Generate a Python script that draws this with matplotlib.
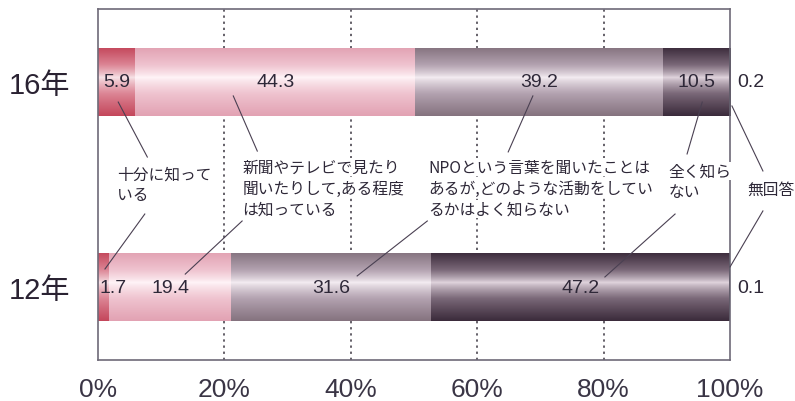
import numpy as np
import matplotlib
matplotlib.use("Agg")
import matplotlib.pyplot as plt
from matplotlib import font_manager
from matplotlib.colors import LinearSegmentedColormap

# survey results (%), awareness of NPOs
years = ["16年", "12年"]
categories = [
    "十分に知っている",
    "新聞やテレビで見たり聞いたりして,ある程度は知っている",
    "NPOという言葉を聞いたことはあるが,どのような活動をしているかはよく知らない",
    "全く知らない",
    "無回答",
]
values_16 = [5.9, 44.3, 39.2, 10.5, 0.2]
values_12 = [1.7, 19.4, 31.6, 47.2, 0.1]
xticks = [0, 20, 40, 60, 80, 100]
xtick_labels = ["0%", "20%", "40%", "60%", "80%", "100%"]

# callout texts, as broken in the layout
notes = [
    "十分に知って\nいる",
    "新聞やテレビで見たり\n聞いたりして,ある程度\nは知っている",
    "NPOという言葉を聞いたことは\nあるが,どのような活動をしてい\nるかはよく知らない",
    "全く知ら\nない",
    "無回答",
]

# edge / mid / highlight colours for each category
shades = [
    ("#c4475b", "#dc8595", "#f7e4e8"),
    ("#e2a2b3", "#efc3cf", "#fff5f8"),
    ("#85737f", "#b3a2b0", "#f5eef3"),
    ("#3b2b3b", "#7a6878", "#e2d6df"),
    ("#1e1420", "#2a1d2a", "#4a3a4a"),
]

installed = {f.name for f in font_manager.fontManager.ttflist}
num_font = "Liberation Sans Narrow" if "Liberation Sans Narrow" in installed else "Liberation Sans"
num_size = 17 if num_font == "Liberation Sans Narrow" else 14
jp_fonts = ["Noto Sans CJK JP", "DejaVu Sans"]
text_col = "#2e2838"

fig = plt.figure(figsize=(7.95, 4.02), dpi=100)
ax = fig.add_axes([0.1233, 0.1020, 0.7950, 0.8731])

ypos = [1, 0]
bar_h = 0.336
data = np.array([values_16, values_12])

# vertical gradient: dark edges, bright band a little above the middle
t = np.linspace(0, 1, 256)
hi = 0.56
v = np.where(t < hi, (hi - t) / hi, (t - hi) / (1 - hi)) ** 0.8
grad = v[:, None]

lefts = np.zeros(2)
for i, cat in enumerate(categories):
    vals = data[:, i]
    edge, mid, light = shades[i]
    cmap = LinearSegmentedColormap.from_list(f"c{i}", [(0, light), (0.5, mid), (1, edge)])
    bars = ax.barh(ypos, vals, left=lefts, height=bar_h, color=edge, linewidth=0, zorder=2)
    for p in bars:
        x0, y0 = p.get_x(), p.get_y()
        im = ax.imshow(grad, extent=(x0, x0 + p.get_width(), y0, y0 + p.get_height()),
                       origin="lower", cmap=cmap, vmin=0, vmax=1, aspect="auto",
                       interpolation="bilinear", zorder=2.1)
        im.set_clip_path(p)
    for j, (left, w) in enumerate(zip(lefts, vals)):
        label = f"{w:.1f}"
        y = ypos[j]
        if i == len(categories) - 1:
            x, ha = 101.2, "left"
        elif w < 3:
            x, ha = left + 0.3, "left"
        else:
            x, ha = left + w / 2, "center"
        ax.text(x, y, label, ha=ha, va="center", fontsize=num_size,
                family=num_font, color=text_col, zorder=4)
    lefts = lefts + vals

# dotted guides
for gx in xticks[1:-1]:
    ax.axvline(gx, color="#3a3540", lw=1.1, linestyle=(0, (1.5, 2.5)), zorder=1)

# callout texts, one line at a time so each line masks the guides behind it
note_pos = [(3.0, 0.551), (22.8, 0.585), (52.2, 0.585), (90.2, 0.566), (102.8, 0.478)]
line_step = 0.102
for txt, (nx, ny) in zip(notes, note_pos):
    for k, line in enumerate(txt.split("\n")):
        ax.text(nx, ny - k * line_step, line, ha="left", va="center", fontsize=11.3,
                family=jp_fonts, color=text_col, clip_on=False, zorder=4,
                bbox=dict(boxstyle="square,pad=0.05", fc="white", ec="none"))

# leader lines from values to callouts
leaders = [
    ((3.2, 7.8), (0.902, 0.634)),
    ((7.4, 1.1), (0.356, 0.088)),
    ((21.4, 25.2), (0.932, 0.663)),
    ((22.8, 13.8), (0.322, 0.063)),
    ((68.8, 64.9), (0.932, 0.659)),
    ((52.1, 41.0), (0.322, 0.054)),
    ((95.6, 93.2), (0.902, 0.649)),
    ((91.3, 80.2), (0.356, 0.049)),
    ((100.3, 105.2), (0.883, 0.566)),
    ((105.2, 100.0), (0.371, 0.098)),
]
for lx, ly in leaders:
    ax.plot(lx, ly, color="#4a4052", lw=0.8, clip_on=False, zorder=5)

ax.set_xlim(0, 100)
ax.set_ylim(-0.356, 1.356)
ax.set_xticks(xticks)
ax.set_xticklabels(xtick_labels, fontsize=19, family="Liberation Sans", color="#3a3545")
ax.set_yticks(ypos)
ax.set_yticklabels(years, fontsize=21, family=["Liberation Sans", "Noto Sans CJK JP"], color="#2a2232")
ax.tick_params(axis="both", length=0)
ax.tick_params(axis="x", pad=12)
ax.tick_params(axis="y", pad=20)
for s in ax.spines.values():
    s.set_color("#6e6a78")
    s.set_linewidth(1.2)

fig.savefig("out.png", dpi=100)
